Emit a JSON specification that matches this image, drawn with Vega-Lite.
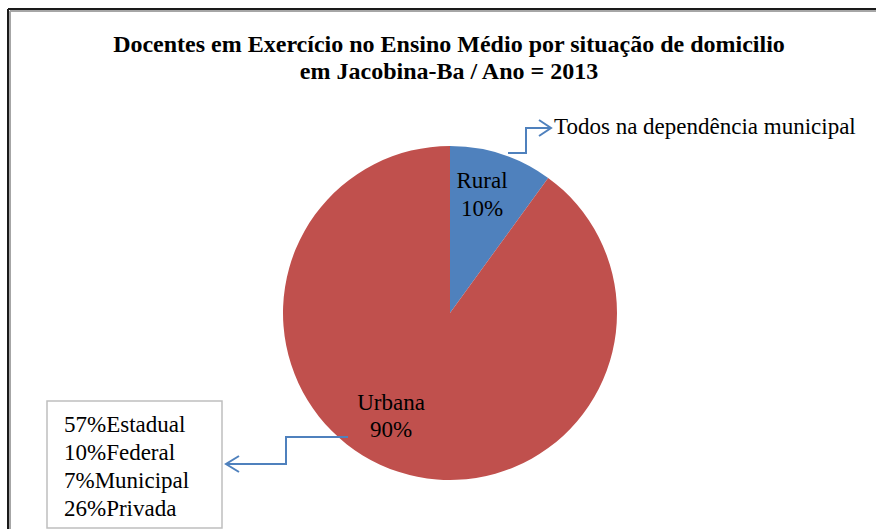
{
  "$schema": "https://vega.github.io/schema/vega-lite/v6.json",
  "width": 876,
  "height": 529,
  "autosize": "none",
  "padding": 0,
  "background": "white",
  "config": {"view": {"stroke": null}},
  "datasets": {
    "pie": [
      {"situacao": "Rural", "pct": 10, "cx": 450, "cy": 313},
      {"situacao": "Urbana", "pct": 90, "cx": 450, "cy": 313}
    ],
    "hframe": [
      {"name": "outer", "hx": 8, "hx2": 880, "hy": 9},
      {"name": "shadow", "hx": 10, "hx2": 880, "hy": 11}
    ],
    "vframe": [
      {"name": "outer", "vx": 8, "vy": 9, "vy2": 535},
      {"name": "shadow", "vx": 10, "vy": 11, "vy2": 535}
    ],
    "box": [{"x": 47, "y": 401, "x2": 222, "y2": 528}],
    "arrows": [
      {"g": "top", "i": 1, "x": 508, "y": 153},
      {"g": "top", "i": 2, "x": 526, "y": 153},
      {"g": "top", "i": 3, "x": 526, "y": 128},
      {"g": "top", "i": 4, "x": 551, "y": 128},
      {"g": "tophead", "i": 1, "x": 539, "y": 120},
      {"g": "tophead", "i": 2, "x": 551, "y": 128},
      {"g": "tophead", "i": 3, "x": 539, "y": 136},
      {"g": "bot", "i": 1, "x": 348, "y": 437},
      {"g": "bot", "i": 2, "x": 286, "y": 437},
      {"g": "bot", "i": 3, "x": 286, "y": 464},
      {"g": "bot", "i": 4, "x": 226, "y": 464},
      {"g": "bothead", "i": 1, "x": 239, "y": 456},
      {"g": "bothead", "i": 2, "x": 226, "y": 464},
      {"g": "bothead", "i": 3, "x": 239, "y": 472}
    ],
    "pielabels": [
      {"t": "Rural", "x": 482, "y": 188},
      {"t": "10%", "x": 482, "y": 216},
      {"t": "Urbana", "x": 391, "y": 410},
      {"t": "90%", "x": 391, "y": 437}
    ],
    "notes": [
      {"t": "Todos na dependência municipal", "x": 554, "y": 134},
      {"t": "57%Estadual", "x": 64, "y": 432},
      {"t": "10%Federal", "x": 64, "y": 460},
      {"t": "7%Municipal", "x": 64, "y": 488},
      {"t": "26%Privada", "x": 64, "y": 516}
    ],
    "title": [
      {"t": "Docentes em Exercício no Ensino Médio por situação de domicilio", "x": 449, "y": 52},
      {"t": "em Jacobina-Ba / Ano = 2013", "x": 449, "y": 79}
    ]
  },
  "layer": [
    {
      "data": {"name": "hframe"},
      "mark": {"type": "rule", "strokeWidth": 2},
      "encoding": {
        "x": {"field": "hx", "type": "quantitative", "scale": {"domain": [0, 876], "nice": false, "zero": false}, "axis": null},
        "x2": {"field": "hx2"},
        "y": {"field": "hy", "type": "quantitative", "scale": {"domain": [0, 529], "nice": false, "zero": false, "reverse": true}, "axis": null},
        "stroke": {"field": "name", "type": "nominal", "scale": {"domain": ["outer", "shadow"], "range": ["#1a1a1a", "#a6a6a6"]}, "legend": null}
      }
    },
    {
      "data": {"name": "vframe"},
      "mark": {"type": "rule", "strokeWidth": 2},
      "encoding": {
        "x": {"field": "vx", "type": "quantitative"},
        "y": {"field": "vy", "type": "quantitative"},
        "y2": {"field": "vy2"},
        "stroke": {"field": "name", "type": "nominal", "legend": null}
      }
    },
    {
      "data": {"name": "pie"},
      "mark": {"type": "arc", "outerRadius": 167},
      "encoding": {
        "x": {"field": "cx", "type": "quantitative"},
        "y": {"field": "cy", "type": "quantitative"},
        "theta": {"field": "pct", "type": "quantitative", "stack": true},
        "order": {"field": "situacao", "sort": "ascending"},
        "color": {"field": "situacao", "type": "nominal", "scale": {"domain": ["Rural", "Urbana"], "range": ["#4F81BD", "#C0504D"]}, "legend": null}
      }
    },
    {
      "data": {"name": "box"},
      "mark": {"type": "rect", "fill": "white", "stroke": "#bfbfbf", "strokeWidth": 1.5},
      "encoding": {
        "x": {"field": "x", "type": "quantitative"},
        "x2": {"field": "x2"},
        "y": {"field": "y", "type": "quantitative"},
        "y2": {"field": "y2"}
      }
    },
    {
      "data": {"name": "arrows"},
      "mark": {"type": "line", "color": "#4F81BD", "strokeWidth": 2, "strokeJoin": "miter"},
      "encoding": {
        "x": {"field": "x", "type": "quantitative"},
        "y": {"field": "y", "type": "quantitative"},
        "detail": {"field": "g", "type": "nominal"},
        "order": {"field": "i", "type": "quantitative"}
      }
    },
    {
      "data": {"name": "pielabels"},
      "mark": {"type": "text", "font": "Liberation Serif", "fontSize": 23, "color": "black", "baseline": "alphabetic", "align": "center"},
      "encoding": {
        "x": {"field": "x", "type": "quantitative"},
        "y": {"field": "y", "type": "quantitative"},
        "text": {"field": "t"}
      }
    },
    {
      "data": {"name": "notes"},
      "mark": {"type": "text", "font": "Liberation Serif", "fontSize": 23, "color": "black", "baseline": "alphabetic", "align": "left"},
      "encoding": {
        "x": {"field": "x", "type": "quantitative"},
        "y": {"field": "y", "type": "quantitative"},
        "text": {"field": "t"}
      }
    },
    {
      "data": {"name": "title"},
      "mark": {"type": "text", "font": "Liberation Serif", "fontSize": 24, "fontWeight": "bold", "color": "black", "baseline": "alphabetic", "align": "center"},
      "encoding": {
        "x": {"field": "x", "type": "quantitative"},
        "y": {"field": "y", "type": "quantitative"},
        "text": {"field": "t"}
      }
    }
  ]
}
